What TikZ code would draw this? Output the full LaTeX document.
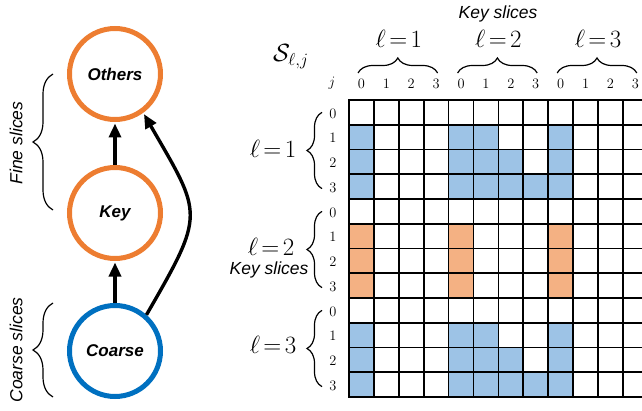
\documentclass[tikz,border=0pt]{standalone}
\usepackage{fontspec}
\setsansfont{Liberation Sans}
\usetikzlibrary{arrows.meta,decorations.pathreplacing}
\definecolor{corange}{HTML}{ED7D31}
\definecolor{cblue}{HTML}{0070C0}
\definecolor{fblue}{HTML}{9DC3E6}
\definecolor{forange}{HTML}{F4B183}
\newcommand{\ellk}[1]{\ell\mkern2.5mu{=}\mkern2.5mu#1}
\begin{document}
\begin{tikzpicture}[x=1pt,y=1pt,
  slicenode/.style={circle,draw,line width=5pt,minimum size=91pt,inner sep=0pt,
    font=\fontsize{17}{20}\selectfont\sffamily\bfseries\itshape},
  link/.style={line width=3.4pt,-{Triangle[length=14pt,width=12pt]},shorten >=1.5pt},
  sidebrace/.style={decorate,decoration={brace,amplitude=20pt},line width=1.2pt},
  gridbrace/.style={decorate,decoration={brace,amplitude=15pt},line width=1.2pt},
  sidelabel/.style={font=\fontsize{17.5}{20}\selectfont\sffamily\itshape,inner sep=0pt},
  mathlabel/.style={font=\fontsize{23}{26}\selectfont,inner sep=0pt},
  idx/.style={font=\fontsize{15}{17}\selectfont,inner sep=0pt},
  gridline/.style={line width=1.7pt,black}
]
\useasboundingbox (0,0) rectangle (642,410);

% ---- left: slice graph ----
\node[slicenode,draw=corange] (others) at (115,336) {Others};
\node[slicenode,draw=corange] (key) at (115,197) {Key};
\node[slicenode,draw=cblue] (coarse) at (115,59) {Coarse};
\draw[link] (key.north) -- (others.south);
\draw[link] (coarse.north) -- (key.south);
\draw[link] (coarse.49) to[out=60,in=-60,looseness=1.5] (others.-54);

\coordinate (fb1) at (53,200);
\coordinate (fb2) at (53,336);
\draw[sidebrace] (fb1) -- (fb2);
\node[sidelabel,rotate=90] (finelab) at (16,267) {Fine slices};
\coordinate (cb1) at (53,13);
\coordinate (cb2) at (53,107);
\draw[sidebrace] (cb1) -- (cb2);
\node[sidelabel,rotate=90] (coarselab) at (16,60) {Coarse slices};

% ---- right: grid ----
\def\cw{24.9}
\def\ch{24.75}
\foreach \r/\c in {1/0,1/4,1/5,1/8,2/0,2/4,2/5,2/6,2/8,3/0,3/4,3/5,3/6,3/7,3/8,
                   9/0,9/4,9/5,9/8,10/0,10/4,10/5,10/6,10/8,11/0,11/4,11/5,11/6,11/7,11/8}
  \fill[fblue] ({349+\c*\cw},{310-\r*\ch}) rectangle ++(\cw,-\ch);
\foreach \r/\c in {5/0,5/4,5/8,6/0,6/4,6/8,7/0,7/4,7/8}
  \fill[forange] ({349+\c*\cw},{310-\r*\ch}) rectangle ++(\cw,-\ch);
\foreach \i in {0,...,12}
  \draw[gridline] ({349+\i*\cw},13) -- ({349+\i*\cw},310);
\foreach \i in {0,...,12}
  \draw[gridline] (348.2,{310-\i*\ch}) -- (648,{310-\i*\ch});

% column indices
\node[idx] (jlab) at (332,327) {$j$};
\foreach \b in {0,1,2}{
  \foreach \k in {0,...,3}
    \node[idx] (col\b\k) at ({349+(4*\b+\k+0.5)*\cw},326) {$\k$};
  \draw[gridbrace] ({349+4*\b*\cw+9},337) -- ({349+4*(\b+1)*\cw-11},337);
}
\node[mathlabel,anchor=base] (t1) at ({349+2*\cw},362) {$\ellk{1}$};
\node[mathlabel,anchor=base] (t2) at ({349+6*\cw},362) {$\ellk{2}$};
\node[mathlabel,anchor=base] (t3) at ({349+10*\cw},362) {$\ellk{3}$};
\node[sidelabel] (keytop) at (498,396) {Key slices};
\node[font=\fontsize{25}{28}\selectfont,inner sep=0pt,anchor=base west] (slj) at (273,348) {$\mathcal{S}_{\ell,j}$};

% row indices and braces
\foreach \b in {0,1,2}{
  \foreach \k in {0,...,3}
    \node[idx] (row\b\k) at (333,{310-(4*\b+\k+0.5)*\ch-1}) {$\k$};
  \draw[gridbrace] (322,{310-(4*\b+3.5)*\ch-2}) -- (322,{310-(4*\b+0.5)*\ch});
}
\node[mathlabel,anchor=base] (r1) at (273,252) {$\ellk{1}$};
\node[mathlabel,anchor=base] (r2) at (271,155) {$\ellk{2}$};
\node[sidelabel,anchor=base] (keyside) at (269,136) {Key slices};
\node[mathlabel,anchor=base] (r3) at (273,57) {$\ellk{3}$};
\end{tikzpicture}
\end{document}
